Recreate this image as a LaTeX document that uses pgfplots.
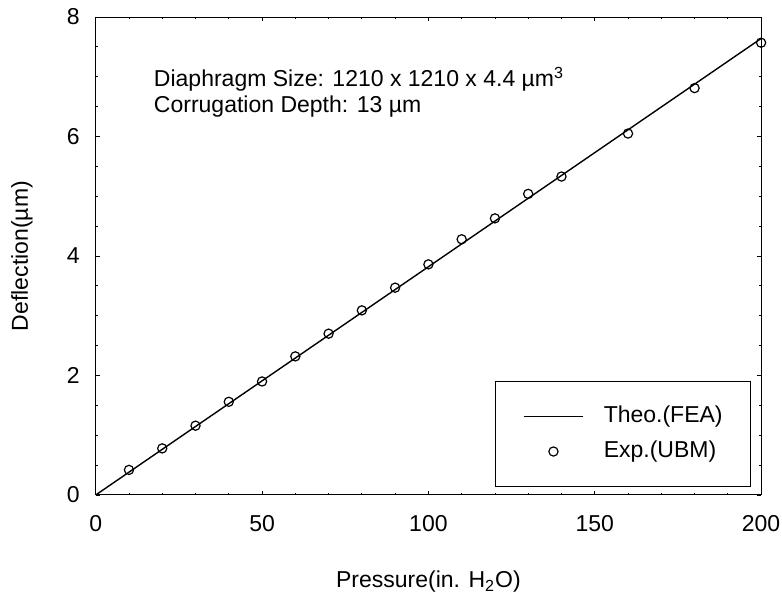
\documentclass[border=0pt]{standalone}
\usepackage{fontspec}
\setmainfont{Liberation Sans}
\usepackage{pgfplots}
\pgfplotsset{compat=1.18}

\begin{document}
\fontsize{11.5}{13.8}\selectfont
\begin{tikzpicture}
    \path[use as bounding box] (-47.85pt,-51.5pt) rectangle (343.15pt,247.5pt);
    \begin{axis}[
        scale only axis,
        width=332.7pt,
        height=239pt,
        xmin=0, xmax=200,
        ymin=0, ymax=8,
        xtick={0,50,...,200},
        ytick={0,2,...,8},
        minor x tick num=4,
        minor y tick num=3,
        tick align=inside,
        major tick length=2.2pt,
        minor tick length=1.2pt,
        axis line style={line width=0.5pt},
        every tick/.style={black, line width=0.4pt},
        /pgf/number format/assume math mode=true,
        xticklabel style={yshift=-6pt},
        yticklabel style={xshift=-4pt},
        every axis x label/.style={at={(axis description cs:0.5,-0.182)}, anchor=center},
        every axis y label/.style={at={(axis description cs:-0.111,0.5)}, anchor=center, rotate=90},
        xlabel={Pressure(in. H\textsubscript{2}O)},
        ylabel={Deflection(µm)},
        legend style={
            at={(axis description cs:0.985,0.0167)},
            anchor=south east,
            draw=black, line width=0.5pt,
            inner xsep=14pt, inner ysep=12pt,
            row sep=6.5pt, column sep=10pt,
            nodes={inner sep=0pt, text height=8.5pt, text depth=2.5pt},
        },
        legend cell align=left,
        legend image code/.code={
            \draw[mark repeat=2, mark phase=2, #1]
                plot coordinates {(0cm,0cm) (0.52cm,0cm) (1.04cm,0cm)};
        },
    ]
        \addplot[black, line width=0.7pt] coordinates {
            (0,0)
            (200,7.64)
        };
        \addlegendentry{Theo.(FEA)}

        \addplot[only marks, mark=o, mark size=2.3pt, mark options={line width=0.6pt}] coordinates {
            (10,0.42)
            (20,0.78)
            (30,1.16)
            (40,1.56)
            (50,1.90)
            (60,2.32)
            (70,2.70)
            (80,3.09)
            (90,3.47)
            (100,3.86)
            (110,4.28)
            (120,4.63)
            (130,5.04)
            (140,5.33)
            (160,6.05)
            (180,6.81)
            (200,7.57)
        };
        \addlegendentry{Exp.(UBM)}

        \node[anchor=base west, inner sep=0pt] at (axis cs:17.4,6.83)
            {Diaphragm Size: 1210 x 1210 x 4.4 µm\textsuperscript{3}};
        \node[anchor=base west, inner sep=0pt] at (axis cs:17.4,6.41)
            {Corrugation Depth: 13 µm};
    \end{axis}
\end{tikzpicture}
\end{document}
